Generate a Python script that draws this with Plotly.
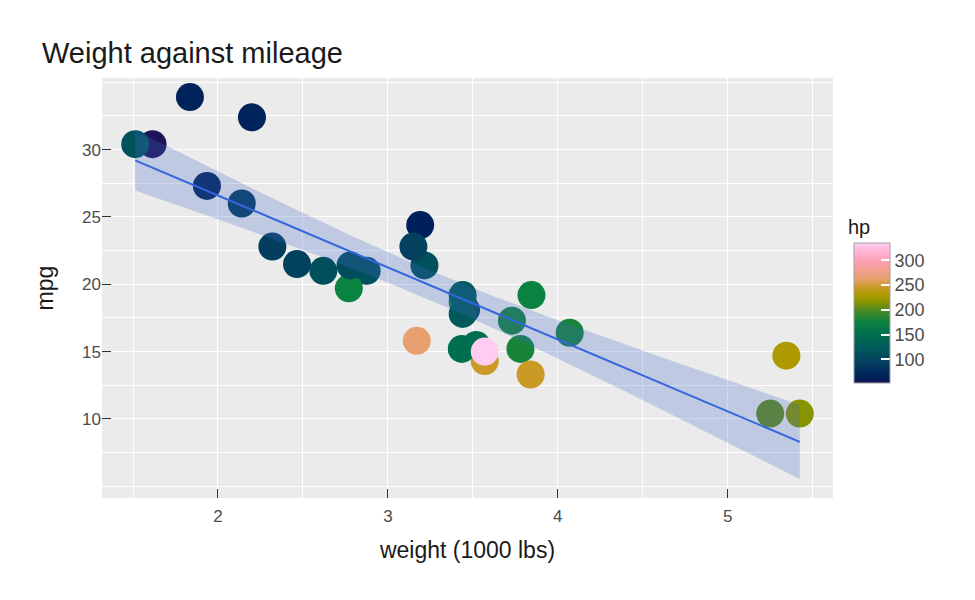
import numpy as np
import plotly.graph_objects as go

# mtcars: weight (1000 lbs), mpg, horsepower
wt = [2.620, 2.875, 2.320, 3.215, 3.440, 3.460, 3.570, 3.190, 3.150, 3.440, 3.440,
      4.070, 3.730, 3.780, 5.250, 5.424, 5.345, 2.200, 1.615, 1.835, 2.465, 3.520,
      3.435, 3.840, 3.845, 1.935, 2.140, 1.513, 3.170, 2.770, 3.570, 2.780]
mpg = [21.0, 21.0, 22.8, 21.4, 18.7, 18.1, 14.3, 24.4, 22.8, 19.2, 17.8,
       16.4, 17.3, 15.2, 10.4, 10.4, 14.7, 32.4, 30.4, 33.9, 21.5, 15.5,
       15.2, 13.3, 19.2, 27.3, 26.0, 30.4, 15.8, 19.7, 15.0, 21.4]
hp = [110, 110, 93, 110, 175, 105, 245, 62, 95, 123, 123,
      180, 180, 180, 205, 215, 230, 66, 52, 65, 97, 150,
      150, 245, 175, 66, 91, 113, 264, 175, 335, 109]

x_ticks = [2, 3, 4, 5]
y_ticks = [10, 15, 20, 25, 30]
hp_ticks = [100, 150, 200, 250, 300]

# linear fit with 95% confidence band (like stat_smooth(method="lm"))
x = np.array(wt)
y = np.array(mpg)
n = len(x)
b1, b0 = np.polyfit(x, y, 1)
resid = y - (b0 + b1 * x)
s = np.sqrt(np.sum(resid ** 2) / (n - 2))
xs = np.linspace(x.min(), x.max(), 80)
fit = b0 + b1 * xs
se = s * np.sqrt(1 / n + (xs - x.mean()) ** 2 / np.sum((x - x.mean()) ** 2))
tq = 2.042272  # t(0.975, df=30)
upper = fit + tq * se
lower = fit - tq * se

hmin, hmax = min(hp), max(hp)


def stop(v):
    return (v - hmin) / (hmax - hmin)


colorscale = [
    [stop(52), "#1f1458"],
    [stop(62), "#00205a"],
    [stop(95), "#04405f"],
    [stop(110), "#004f5c"],
    [stop(125), "#005c5c"],
    [stop(150), "#006f50"],
    [stop(175), "#0a8240"],
    [stop(200), "#4f8a22"],
    [stop(215), "#889400"],
    [stop(230), "#ad9a00"],
    [stop(245), "#c99a25"],
    [stop(264), "#e8a070"],
    [stop(300), "#ffa0b8"],
    [stop(335), "#ffcdf0"],
]

xr = [x.min() - 0.05 * (x.max() - x.min()), x.max() + 0.05 * (x.max() - x.min())]
ylo = min(lower.min(), y.min())
yhi = max(upper.max(), y.max())
yr = [ylo - 0.05 * (yhi - ylo), yhi + 0.05 * (yhi - ylo)]

PL, PR, PT, PB = 102, 833, 78, 498
pw, ph = PR - PL, PB - PT

fig = go.Figure()
fig.add_trace(go.Scatter(
    x=wt, y=mpg, mode="markers",
    marker=dict(size=28, color=hp, colorscale=colorscale, cmin=hmin, cmax=hmax,
                line=dict(width=0),
                colorbar=dict(
                    x=(854 - PL) / pw, xanchor="left", xpad=0,
                    y=(PB - 383) / ph, yanchor="bottom", ypad=0,
                    len=140, lenmode="pixels", thickness=36, thicknessmode="pixels",
                    outlinecolor="#a0a0a0", outlinewidth=1,
                    tickvals=hp_ticks, ticks="inside", ticklen=9, tickcolor="white",
                    tickwidth=1.5,
                    tickfont=dict(size=18, color="#4d4d4d"),
                )),
    showlegend=False, hoverinfo="x+y",
))
fig.add_trace(go.Scatter(
    x=np.concatenate([xs, xs[::-1]]), y=np.concatenate([upper, lower[::-1]]),
    mode="lines", fill="toself", fillcolor="rgba(65,105,200,0.26)",
    line=dict(width=0), showlegend=False, hoverinfo="skip",
))
fig.add_trace(go.Scatter(
    x=xs, y=fit, mode="lines", line=dict(color="#3366dd", width=2),
    showlegend=False, hoverinfo="skip",
))

axis_common = dict(
    showgrid=True, gridcolor="white", gridwidth=1.4,
    ticks="inside", ticklen=9, tickcolor="#333333", tickwidth=1,
    tickfont=dict(size=17, color="#4d4d4d"),
    zeroline=False, showline=False,
)
fig.update_layout(
    width=975, height=600,
    paper_bgcolor="white", plot_bgcolor="#ebebeb",
    font=dict(family="Liberation Sans, Arial, sans-serif", color="#1a1a1a"),
    margin=dict(l=PL, r=975 - PR, t=PT, b=600 - PB, autoexpand=False),
    title=dict(text="Weight against mileage", x=42 / 975, xanchor="left",
               y=1 - 53 / 600, yanchor="middle", font=dict(size=29, color="#1a1a1a")),
    xaxis=dict(range=xr, tickvals=x_ticks, ticklabelstandoff=6,
               title=dict(text="weight (1000 lbs)", font=dict(size=23), standoff=16),
               minor=dict(dtick=0.5, tick0=1.5, showgrid=True, gridcolor="white", gridwidth=0.6, ticks=""),
               **axis_common),
    yaxis=dict(range=yr, tickvals=y_ticks,
               title=dict(text="mpg", font=dict(size=23), standoff=22),
               minor=dict(dtick=2.5, tick0=7.5, showgrid=True, gridcolor="white", gridwidth=0.6, ticks=""),
               **axis_common),
    annotations=[dict(text="hp", xref="paper", yref="paper",
                      x=(846 - PL) / pw, y=(PB - 240) / ph, xanchor="left", yanchor="bottom",
                      showarrow=False, font=dict(size=20, color="#1a1a1a"))],
)
fig.write_html("out.html", config={"displayModeBar": False},
               post_script="document.body.style.margin='0px';")
